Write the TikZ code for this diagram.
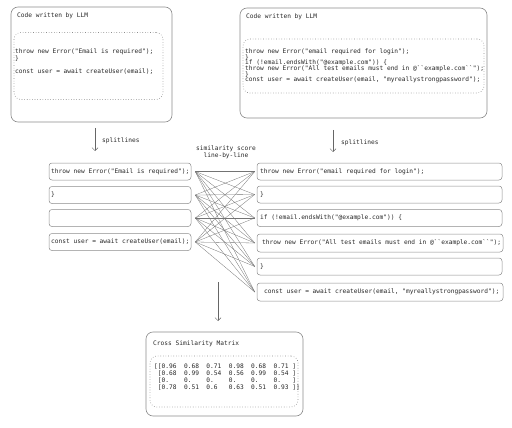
\documentclass[tikz,border=0pt]{standalone}
\usepackage{fontspec}
\setmonofont{DejaVu Sans Mono}
\usetikzlibrary{arrows.meta}
\begin{document}
\begin{tikzpicture}[x=1pt,y=-1pt,
  outer/.style={draw=black!45, line width=0.6pt, rounded corners=7pt, inner sep=0pt},
  inner/.style={draw=black!45, dotted, line width=0.6pt, rounded corners=7pt, inner sep=0pt},
  linebox/.style={draw=black!45, line width=0.5pt, rounded corners=3pt, inner sep=0pt, minimum height=17pt},
  txt/.style={font=\ttfamily\fontsize{6.2}{6.6}\selectfont, inner sep=0pt, anchor=west, text=black!85},
  conn/.style={draw=black!55, line width=0.3pt},
  arr/.style={draw=black!60, line width=0.5pt, -{Straight Barb[length=3pt,width=6pt]}}
]
\useasboundingbox (0,0) rectangle (512,428);

% top left
\node[outer, minimum width=161pt, minimum height=115pt] (topL) at (91.5,64.5) {};
\node[inner, minimum width=149pt, minimum height=67pt] (topLin) at (88.5,66) {};
\node[txt] (topLt) at (17,16) {Code written by LLM};
\node[txt] (tl1) at (15,52) {throw new Error("Email is required");};
\node[txt] (tl2) at (15,58.5) {\}};
\node[txt] (tl3) at (15,72) {const user = await createUser(email);};

% top right
\node[outer, minimum width=247pt, minimum height=110pt] (topR) at (363.5,63) {};
\node[inner, minimum width=241pt, minimum height=54pt] (topRin) at (363.5,66) {};
\node[txt] (topRt) at (246,17) {Code written by LLM};
\node[txt] (tr1) at (245,51.5) {throw new Error("email required for login");};
\node[txt] (tr2) at (245,57.2) {\}};
\node[txt] (tr3) at (245,62.9) {if (!email.endsWith("@example.com")) \{};
\node[txt] (tr4) at (245,68.6) {throw new Error("All test emails must end in @\char96\char96example.com\char96\char96");};
\node[txt] (tr5) at (245,74.3) {\}};
\node[txt] (tr6) at (245,80) {const user = await createUser(email, "myreallystrongpassword");};

% splitlines arrows
\coordinate (a1s) at (95,128);
\coordinate (a1e) at (95,151);
\draw[arr] (a1s) -- (a1e);
\node[txt] (sl1) at (102,141) {splitlines};
\coordinate (a2s) at (333,130);
\coordinate (a2e) at (333,152);
\draw[arr] (a2s) -- (a2e);
\node[txt] (sl2) at (341,143) {splitlines};

% similarity label
\node[txt, anchor=center, align=center] (sim) at (226,152) {similarity score\\line-by-line};

% left line boxes
\node[linebox, minimum width=142pt] (L1) at (120,171.5) {};
\node[linebox, minimum width=142pt] (L2) at (120,195) {};
\node[linebox, minimum width=142pt] (L3) at (120,218) {};
\node[linebox, minimum width=142pt] (L4) at (120,242) {};
\node[txt] (L1t) at (51,171.5) {throw new Error("Email is required");};
\node[txt] (L2t) at (51,195) {\}};
\node[txt] (L4t) at (51,242) {const user = await createUser(email);};

% right line boxes
\node[linebox, minimum width=245pt] (R1) at (379.5,171.5) {};
\node[linebox, minimum width=245pt] (R2) at (379.5,194.5) {};
\node[linebox, minimum width=245pt] (R3) at (379.5,218) {};
\node[linebox, minimum width=246pt, minimum height=18pt] (R4) at (380,243) {};
\node[linebox, minimum width=245pt] (R5) at (379.5,266.5) {};
\node[linebox, minimum width=246pt, minimum height=18pt] (R6) at (380,292) {};
\node[txt] (R1t) at (260,171.5) {throw new Error("email required for login");};
\node[txt] (R2t) at (260,194.5) {\}};
\node[txt] (R3t) at (260,218) {if (!email.endsWith("@example.com")) \{};
\node[txt] (R4t) at (262,243) {throw new Error("All test emails must end in @\char96\char96example.com\char96\char96");};
\node[txt] (R5t) at (260,266.5) {\}};
\node[txt] (R6t) at (264,292) {const user = await createUser(email, "myreallystrongpassword");};

% connectors
\foreach \i in {1,...,4}{
  \foreach \j in {1,...,6}{
    \draw[conn] ([xshift=4pt]L\i.east) -- ([xshift=-2pt]R\j.west);
  }
}

% down arrow
\coordinate (a3s) at (218,282);
\coordinate (a3e) at (218,321);
\draw[arr] (a3s) -- (a3e);

% matrix
\node[outer, minimum width=157pt, minimum height=84pt] (mat) at (224.5,374) {};
\node[inner, minimum width=148pt, minimum height=51pt] (matin) at (224,381.5) {};
\node[txt] (matt) at (153,344) {Cross Similarity Matrix};
\node[txt] (m1) at (154,367) {[[0.96~~0.68~~0.71~~0.98~~0.68~~0.71~]};
\node[txt] (m2) at (154,374) {\phantom{[}[0.68~~0.99~~0.54~~0.56~~0.99~~0.54~]};
\node[txt] (m3) at (154,381) {\phantom{[}[0.~~~~0.~~~~0.~~~~0.~~~~0.~~~~0.~~~]};
\node[txt] (m4) at (154,388) {\phantom{[}[0.78~~0.51~~0.6~~~0.63~~0.51~~0.93~]]};
\end{tikzpicture}
\end{document}
